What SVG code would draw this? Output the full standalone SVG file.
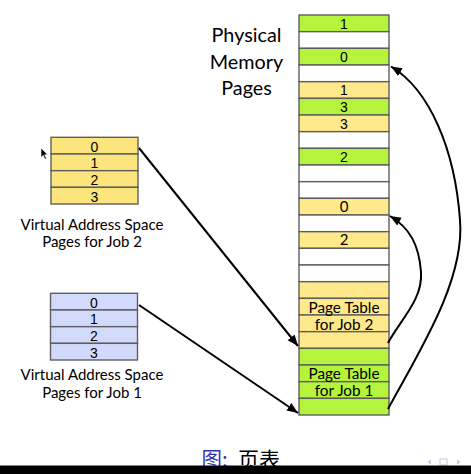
<svg xmlns="http://www.w3.org/2000/svg" width="471" height="474" viewBox="0 0 471 474">
<style>
.g{fill:#b5f43c;stroke:#5e5e5e;stroke-width:1.4}
.y{fill:#ffe98a;stroke:#5e5e5e;stroke-width:1.4}
.w{fill:#fff;stroke:#5e5e5e;stroke-width:1.4}
.vy{fill:#fbe57c;stroke:#5e5e5e;stroke-width:1.4}
.vb{fill:#d2dafc;stroke:#5e5e5e;stroke-width:1.4}
.d{font-family:"Liberation Sans",Arial,sans-serif;font-size:14px;fill:#000;text-anchor:middle}
.l{font-family:Lato,"Open Sans",sans-serif;fill:#000;text-anchor:middle}
.c{fill:none;stroke:#000;stroke-width:2}
</style>
<defs>
<marker id="ah" markerUnits="userSpaceOnUse" markerWidth="12" markerHeight="10" refX="11" refY="4.5" orient="auto">
<path d="M0,0 L11,4.5 L0,9 z" fill="#000"/>
</marker>
</defs>
<rect width="471" height="474" fill="#fff"/>

<g id="physical-memory">
<rect class="g" x="299" y="15" width="90" height="16.67"/>
<rect class="w" x="299" y="31.67" width="90" height="16.67"/>
<rect class="g" x="299" y="48.33" width="90" height="16.67"/>
<rect class="w" x="299" y="65" width="90" height="16.67"/>
<rect class="y" x="299" y="81.67" width="90" height="16.67"/>
<rect class="g" x="299" y="98.33" width="90" height="16.67"/>
<rect class="y" x="299" y="115" width="90" height="16.67"/>
<rect class="w" x="299" y="131.67" width="90" height="16.67"/>
<rect class="g" x="299" y="148.33" width="90" height="16.67"/>
<rect class="w" x="299" y="165" width="90" height="16.67"/>
<rect class="w" x="299" y="181.67" width="90" height="16.67"/>
<rect class="y" x="299" y="198.33" width="90" height="16.67"/>
<rect class="w" x="299" y="215" width="90" height="16.67"/>
<rect class="y" x="299" y="231.67" width="90" height="16.67"/>
<rect class="w" x="299" y="248.33" width="90" height="16.67"/>
<rect class="w" x="299" y="265" width="90" height="16.67"/>
<rect class="y" x="299" y="281.67" width="90" height="16.67"/>
<rect class="y" x="299" y="298.33" width="90" height="16.67"/>
<rect class="y" x="299" y="315" width="90" height="16.67"/>
<rect class="y" x="299" y="331.67" width="90" height="16.67"/>
<rect class="g" x="299" y="348.33" width="90" height="16.67"/>
<rect class="g" x="299" y="365" width="90" height="16.67"/>
<rect class="g" x="299" y="381.67" width="90" height="16.67"/>
<rect class="g" x="299" y="398.33" width="90" height="16.67"/>
<text class="d" x="344" y="28.6">1</text>
<text class="d" x="344" y="61.9">0</text>
<text class="d" x="344" y="95.2">1</text>
<text class="d" x="344" y="111.9">3</text>
<text class="d" x="344" y="128.6">3</text>
<text class="d" x="344" y="161.9">2</text>
<text class="l" x="344" y="212" font-size="15">0</text>
<text class="l" x="344" y="245.3" font-size="15">2</text>
<text class="l" x="344" y="312.8" font-size="15.3">Page Table</text>
<text class="l" x="344" y="329.6" font-size="15.3">for Job 2</text>
<text class="l" x="344" y="379.4" font-size="15.3">Page Table</text>
<text class="l" x="344" y="396.1" font-size="15.3">for Job 1</text>
</g>

<g id="physical-label">
<text class="l" x="246.5" y="42.3" font-size="19.8">Physical</text>
<text class="l" x="246.5" y="68.8" font-size="19.8">Memory</text>
<text class="l" x="246.5" y="95.3" font-size="19.8">Pages</text>
</g>

<g id="job2-virtual">
<rect class="vy" x="51" y="137.3" width="87" height="16.67"/>
<rect class="vy" x="51" y="154" width="87" height="16.67"/>
<rect class="vy" x="51" y="170.67" width="87" height="16.67"/>
<rect class="vy" x="51" y="187.33" width="87" height="16.67"/>
<text class="d" x="94.5" y="151.6">0</text>
<text class="d" x="94.5" y="168.3">1</text>
<text class="d" x="94.5" y="184.9">2</text>
<text class="d" x="94.5" y="201.6">3</text>
<text class="l" x="92" y="230" font-size="15">Virtual Address Space</text>
<text class="l" x="92" y="247.3" font-size="15">Pages for Job 2</text>
</g>

<g id="job1-virtual">
<rect class="vb" x="50.5" y="293.3" width="87" height="16.67"/>
<rect class="vb" x="50.5" y="310" width="87" height="16.67"/>
<rect class="vb" x="50.5" y="326.67" width="87" height="16.67"/>
<rect class="vb" x="50.5" y="343.33" width="87" height="16.67"/>
<text class="d" x="94" y="307.6">0</text>
<text class="d" x="94" y="324.3">1</text>
<text class="d" x="94" y="340.9">2</text>
<text class="d" x="94" y="357.6">3</text>
<text class="l" x="92" y="380" font-size="15">Virtual Address Space</text>
<text class="l" x="92" y="397.5" font-size="15">Pages for Job 1</text>
</g>

<g id="connectors">
<path class="c" d="M139,148 L298,346" marker-end="url(#ah)"/>
<path class="c" d="M139,305 L298,413" marker-end="url(#ah)"/>
<path class="c" d="M388,343 C400,320 423,300 421,272 C419,245 410,228 390,216" marker-end="url(#ah)"/>
<path class="c" d="M388,409 C420,350 465,280 460,220 C455,150 430,90 391,66.5" marker-end="url(#ah)"/>
</g>

<g id="cursor">
<path d="M41,148 L41,157.5 L43.2,155.3 L45,159.3 L46.4,158.6 L44.7,154.7 L47.6,154.7 z" fill="#000" stroke="#fff" stroke-width="0.6"/>
</g>

<g id="caption">
<text x="201.5" y="466.5" font-family="'Noto Sans CJK SC',sans-serif" font-size="20.5" fill="#3333b3">图:</text>
<text x="238" y="466.5" font-family="'Noto Sans CJK SC',sans-serif" font-size="21" fill="#000">页表</text>
</g>

<g id="nav">
<path d="M431,459.5 L427.5,462 L431,464.5 z" fill="#c4c8e2"/>
<rect x="440" y="459" width="7" height="6" fill="none" stroke="#c4c8e2" stroke-width="1"/>
<path d="M457,459.5 L460.5,462 L457,464.5 z" fill="#c4c8e2"/>
</g>

<rect x="0" y="465.5" width="471" height="8.5" fill="#000"/>
</svg>
